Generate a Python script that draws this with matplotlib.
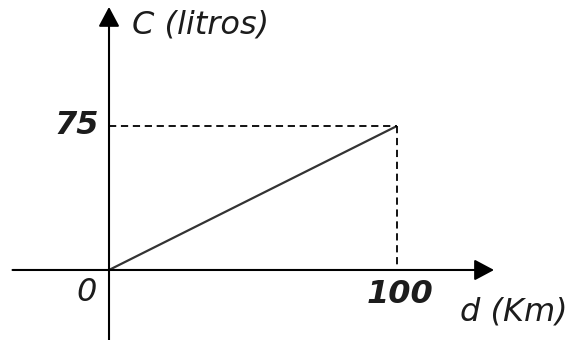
import matplotlib

matplotlib.use("Agg")
import matplotlib.pyplot as plt

# datos: consumo C (litros) frente a distancia d (Km)
d = [0, 100]
C = [0, 75]
x_ticks = ["0", "100"]
y_ticks = ["75"]
x_label = "d (Km)"
y_label = "C (litros)"

ink = "#1c1c1c"

fig = plt.figure(figsize=(5.74, 3.40), dpi=100)
ax = fig.add_axes([0, 0, 1, 1])
ax.set_xlim(-37.85, 161.46)
ax.set_ylim(-36.46, 140.6)
ax.axis("off")

# ejes con flecha
x_tip = 133.7
y_tip = 137.0
arrow = dict(arrowstyle="-|>,head_length=0.6,head_width=0.32", mutation_scale=20,
             lw=1.5, color="black", shrinkA=0, shrinkB=0)
ax.annotate("", xy=(x_tip, 0), xytext=(-33.5, 0), arrowprops=arrow)
ax.annotate("", xy=(0, y_tip), xytext=(0, -36.46), arrowprops=arrow)

# recta y líneas de guía
ax.plot(d, C, color="#333333", lw=1.6, solid_capstyle="butt")
ax.plot([0, d[1]], [C[1], C[1]], color="black", lw=1.3, ls=(0, (4, 2.6)))
ax.plot([d[1], d[1]], [C[1], 0], color="black", lw=1.3, ls=(0, (4, 2.6)))

fs = 23
fs_b = 23
ax.annotate(y_ticks[0], xy=(0, C[1]), xytext=(-7, 0), textcoords="offset points",
            ha="right", va="center", fontsize=fs_b, style="italic", weight="bold", color=ink)
ax.annotate(x_ticks[0], xy=(0, 0), xytext=(-16, -16.5), textcoords="offset points",
            ha="center", va="center", fontsize=fs, style="italic", color=ink)
ax.annotate(x_ticks[1], xy=(d[1], 0), xytext=(2, -18), textcoords="offset points",
            ha="center", va="center", fontsize=fs_b, style="italic", weight="bold", color=ink)
ax.annotate(y_label, xy=(0, y_tip), xytext=(16.5, -13), textcoords="offset points",
            ha="left", va="center", fontsize=fs, style="italic", color=ink)
ax.annotate(x_label, xy=(x_tip, 0), xytext=(-24.5, -30), textcoords="offset points",
            ha="left", va="center", fontsize=fs, style="italic", color=ink)

fig.savefig("out.png", dpi=100)
